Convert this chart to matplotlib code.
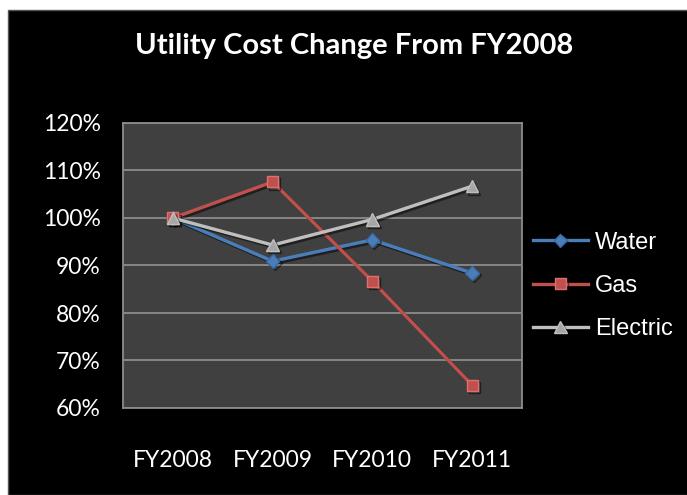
import numpy as np
import matplotlib
matplotlib.use("Agg")
import matplotlib.pyplot as plt
from matplotlib.patches import Rectangle
import matplotlib.patheffects as pe

# datos (en %)
years = ["FY2008", "FY2009", "FY2010", "FY2011"]
water = [100.0, 90.9, 95.4, 88.4]
gas = [100.0, 107.6, 86.7, 64.8]
electric = [100.0, 94.3, 99.7, 106.7]

fig = plt.figure(figsize=(6.87, 4.95), dpi=100, facecolor="white")
# fondo negro con pequeño margen blanco arriba/izquierda
fig.patches.append(Rectangle((8 / 687, 0), 1, 1 - 10 / 495, transform=fig.transFigure,
                             facecolor="black", edgecolor="#555555", lw=1, zorder=-10))

ax = fig.add_axes([123 / 687, 1 - 408 / 495, (522 - 123) / 687, (408 - 123) / 495])
ax.set_facecolor("#404040")

x = np.arange(len(years))
shadow = [pe.SimpleLineShadow(offset=(1.5, -1.5), alpha=0.5, shadow_color="black"), pe.Normal()]

ax.plot(x, water, color="#4A7EBB", lw=2.4, marker="D", ms=7, mfc="#4A7EBB", mec="#3A6BA5",
        label="Water", zorder=3, path_effects=shadow)
ax.plot(x, gas, color="#C0504D", lw=2.4, marker="s", ms=8, mfc="#C0504D", mec="#E07070",
        label="Gas", zorder=4, path_effects=shadow)
ax.plot(x, electric, color="#BFBFBF", lw=2.4, marker="^", ms=9, mfc="#A6A6A6", mec="#BFBFBF",
        label="Electric", zorder=5, path_effects=shadow)

ax.set_xlim(-0.5, 3.5)
ax.set_ylim(60, 120)
ax.set_yticks(np.arange(60, 121, 10))
ax.set_yticklabels([f"{v}%" for v in range(60, 121, 10)])
ax.set_xticks(x)
ax.set_xticklabels(years)

ax.grid(axis="y", color="#8C8C8C", lw=1.3)
ax.set_axisbelow(True)
for s in ax.spines.values():
    s.set_color("#8C8C8C")
    s.set_linewidth(1.3)

ax.tick_params(axis="both", length=0, colors="white", labelsize=16.5)
ax.tick_params(axis="y", pad=16)
ax.tick_params(axis="x", pad=30)
for lbl in ax.get_xticklabels() + ax.get_yticklabels():
    lbl.set_fontfamily("Lato")

fig.text(354 / 687, 1 - 46 / 495, "Utility Cost Change From FY2008", color="white",
         fontsize=21, fontweight="bold", family="Lato", ha="center", va="center")

leg = fig.legend(loc="center left", bbox_to_anchor=(512 / 687, 1 - 286 / 495), frameon=False,
                 handlelength=2.3, labelspacing=0.9, handletextpad=0.3,
                 prop={"family": "Liberation Sans", "size": 17})
for t in leg.get_texts():
    t.set_color("white")

plt.savefig("out.png", dpi=100, facecolor=fig.get_facecolor())
